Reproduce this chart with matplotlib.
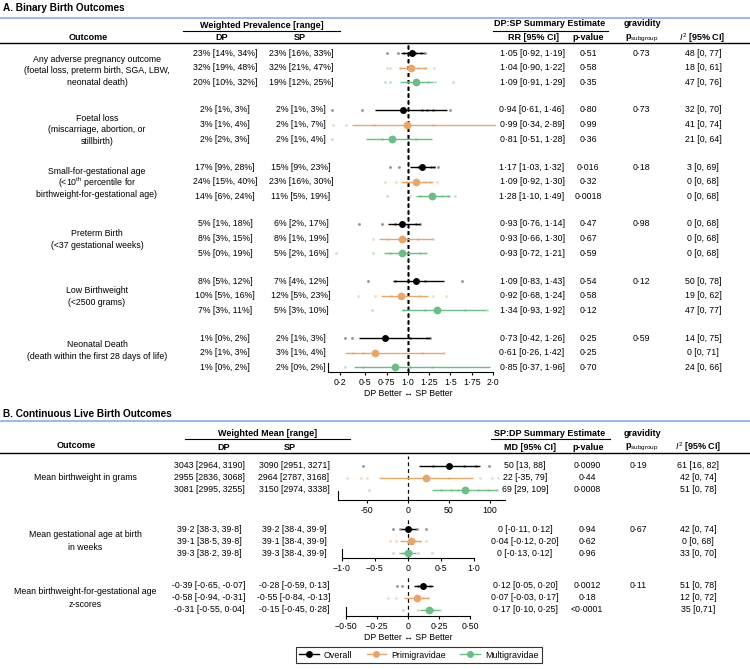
import matplotlib
matplotlib.use('Agg')
import matplotlib.pyplot as plt
from matplotlib.lines import Line2D

plt.rcParams['font.family'] = ['Liberation Sans', 'DejaVu Sans']
plt.rcParams['mathtext.fontset'] = 'custom'
plt.rcParams['mathtext.rm'] = 'Liberation Sans'
plt.rcParams['mathtext.it'] = 'Liberation Sans:italic'
plt.rcParams['mathtext.bf'] = 'Liberation Sans:bold'

# ---------------- data ----------------
subgroups = ["Overall", "Primigravidae", "Multigravidae"]
colors = ["#000000", "#E9A66B", "#68BE84"]

A_outcomes = [
    "Any adverse pregnancy outcome\n(foetal loss, preterm birth, SGA, LBW,\nneonatal death)",
    "Foetal loss\n(miscarriage, abortion, or\nstillbirth)",
    "Small-for-gestational age\n(<10$^{\\mathrm{th}}$ percentile for\nbirthweight-for-gestational age)",
    "Preterm Birth\n(<37 gestational weeks)",
    "Low Birthweight\n(<2500 grams)",
    "Neonatal Death\n(death within the first 28 days of life)",
]
A_dp = [["23% [14%, 34%]", "32% [19%, 48%]", "20% [10%, 32%]"],
        ["2% [1%, 3%]", "3% [1%, 4%]", "2% [2%, 3%]"],
        ["17% [9%, 28%]", "24% [15%, 40%]", "14% [6%, 24%]"],
        ["5% [1%, 18%]", "8% [3%, 15%]", "5% [0%, 19%]"],
        ["8% [5%, 12%]", "10% [5%, 16%]", "7% [3%, 11%]"],
        ["1% [0%, 2%]", "2% [1%, 3%]", "1% [0%, 2%]"]]
A_sp = [["23% [16%, 33%]", "32% [21%, 47%]", "19% [12%, 25%]"],
        ["2% [1%, 3%]", "2% [1%, 7%]", "2% [1%, 4%]"],
        ["15% [9%, 23%]", "23% [16%, 30%]", "11% [5%, 19%]"],
        ["6% [2%, 17%]", "8% [1%, 19%]", "5% [2%, 16%]"],
        ["7% [4%, 12%]", "12% [5%, 23%]", "5% [3%, 10%]"],
        ["2% [1%, 3%]", "3% [1%, 4%]", "2% [0%, 2%]"]]
A_rr = [[1.05, 1.04, 1.09], [0.94, 0.99, 0.81], [1.17, 1.09, 1.28],
        [0.93, 0.93, 0.93], [1.09, 0.92, 1.34], [0.73, 0.61, 0.85]]
A_lo = [[0.92, 0.90, 0.91], [0.61, 0.34, 0.51], [1.03, 0.92, 1.10],
        [0.76, 0.66, 0.72], [0.83, 0.68, 0.93], [0.42, 0.26, 0.37]]
A_hi = [[1.19, 1.22, 1.29], [1.46, 2.89, 1.28], [1.32, 1.30, 1.49],
        [1.14, 1.30, 1.21], [1.43, 1.24, 1.92], [1.26, 1.42, 1.96]]
A_p = [["0·51", "0·58", "0·35"], ["0·80", "0·99", "0·36"], ["0·016", "0·32", "0·0018"],
       ["0·47", "0·67", "0·59"], ["0·54", "0·58", "0·12"], ["0·25", "0·25", "0·70"]]
A_psub = ["0·73", "0·73", "0·18", "0·98", "0·12", "0·59"]
A_i2 = [["48 [0, 77]", "18 [0, 61]", "47 [0, 76]"],
        ["32 [0, 70]", "41 [0, 74]", "21 [0, 64]"],
        ["3 [0, 69]", "0 [0, 68]", "0 [0, 68]"],
        ["0 [0, 68]", "0 [0, 68]", "0 [0, 68]"],
        ["50 [0, 78]", "19 [0, 62]", "47 [0, 77]"],
        ["14 [0, 75]", "0 [0, 71]", "24 [0, 66]"]]
A_studies = [
    [[0.75, 0.88, 0.95, 1.10, 1.15, 1.20], [0.75, 0.79, 0.91, 1.12, 1.20, 1.31], [0.73, 0.79, 1.00, 1.24, 1.32, 1.53]],
    [[0.11, 0.46, 1.16, 1.22, 1.29, 1.49], [0.12, 0.27, 0.60, 1.30], [0.11, 0.70, 1.10]],
    [[0.79, 0.90, 1.12, 1.27, 1.31, 1.35], [0.73, 0.86, 0.99, 1.20, 1.26, 1.34], [0.75, 1.03, 1.14, 1.40, 1.47, 1.55]],
    [[0.42, 0.69, 0.85, 1.10, 1.14], [0.59, 0.75, 1.12, 1.29], [0.15, 0.59, 0.79, 1.00, 1.14, 1.21]],
    [[0.53, 0.85, 1.00, 1.20, 1.64], [0.41, 0.61, 0.80, 1.14, 1.29, 1.45], [0.58, 0.94, 1.20, 1.67, 1.93]],
    [[0.26, 0.34, 1.02, 1.22, 1.26], [0.35, 0.47, 1.17, 1.42], [0.26, 0.47, 1.03, 1.28]],
]
A_ticks = [0.2, 0.5, 0.75, 1.0, 1.25, 1.5, 1.75, 2.0]
A_ticklabels = ["0·2", "0·5", "0·75", "1·0", "1·25", "1·5", "1·75", "2·0"]

B_outcomes = ["Mean birthweight in grams",
              "Mean gestational age at birth\nin weeks",
              "Mean birthweight-for-gestational age\nz-scores"]
B_dp = [["3043 [2964, 3190]", "2955 [2836, 3068]", "3081 [2995, 3255]"],
        ["39·2 [38·3, 39·8]", "39·1 [38·5, 39·8]", "39·3 [38·2, 39·8]"],
        ["-0·39 [-0·65, -0·07]", "-0·58 [-0·94, -0·31]", "-0·31 [-0·55, 0·04]"]]
B_sp = [["3090 [2951, 3271]", "2964 [2787, 3168]", "3150 [2974, 3338]"],
        ["39·2 [38·4, 39·9]", "39·1 [38·4, 39·9]", "39·3 [38·4, 39·9]"],
        ["-0·28 [-0·59, 0·13]", "-0·55 [-0·84, -0·13]", "-0·15 [-0·45, 0·28]"]]
B_md = [[50, 22, 69], [0.0, 0.04, 0.0], [0.12, 0.07, 0.17]]
B_lo = [[13, -35, 29], [-0.11, -0.12, -0.13], [0.05, -0.03, 0.10]]
B_hi = [[88, 79, 109], [0.12, 0.20, 0.12], [0.20, 0.17, 0.25]]
B_md_text = [["50 [13, 88]", "22 [-35, 79]", "69 [29, 109]"],
             ["0 [-0·11, 0·12]", "0·04 [-0·12, 0·20]", "0 [-0·13, 0·12]"],
             ["0·12 [0·05, 0·20]", "0·07 [-0·03, 0·17]", "0·17 [0·10, 0·25]"]]
B_p = [["0·0090", "0·44", "0·0008"], ["0·94", "0·62", "0·96"], ["0·0012", "0·18", "<0·0001"]]
B_psub = ["0·19", "0·67", "0·11"]
B_i2 = [["61 [16, 82]", "42 [0, 74]", "51 [0, 78]"],
        ["42 [0, 74]", "0 [0, 68]", "33 [0, 70]"],
        ["51 [0, 78]", "12 [0, 72]", "35 [0,71]"]]
B_studies = [
    [[-55, 30, 68, 83, 99], [-74, -57, -50, 0, 50, 88, 102, 110], [-47, 40, 52, 61, 85, 98, 108]],
    [[-0.23, -0.12, 0.05, 0.14, 0.27], [-0.27, -0.18, 0.10, 0.18, 0.27], [-0.23, -0.08, 0.05, 0.15, 0.36]],
    [[-0.09, -0.05, 0.08, 0.18], [-0.16, -0.10, 0.12, 0.16], [-0.04, 0.08, 0.15, 0.20, 0.26]],
]
B_ticks = [[-50, 0, 50, 100], [-1.0, -0.5, 0, 0.5, 1.0], [-0.5, -0.25, 0, 0.25, 0.5]]
B_ticklabels = [["-50", "0", "50", "100"],
                ["\u22121·0", "\u22120·5", "0", "0·5", "1·0"],
                ["\u22120·50", "\u22120·25", "0", "0·25", "0·50"]]

# ---------------- layout helpers ----------------
W, H = 750, 669
fig = plt.figure(figsize=(7.5, 6.69), dpi=100)


def fx(x):
    return x / W


def fy(y):
    return 1 - y / H


FS = 6.3
BOLD_FS = 6.5


def txt(x, y, s, size=FS, weight='normal', ha='center', **kw):
    fig.text(fx(x), fy(y), s, fontsize=size, fontweight=weight, ha=ha, va='center', **kw)


def multiline(x, yc, s, step):
    lines = s.split("\n")
    n = len(lines)
    for i, ln in enumerate(lines):
        txt(x, yc + (i - (n - 1) / 2) * step, ln)


def hline(x0, x1, y, color='black', lw=0.8):
    fig.add_artist(Line2D([fx(x0), fx(x1)], [fy(y), fy(y)], transform=fig.transFigure,
                          color=color, lw=lw))


def make_axes(px0, px1, py0, py1, xlim):
    ax = fig.add_axes([fx(px0), fy(py1), (px1 - px0) / W, (py1 - py0) / H])
    ax.set_xlim(*xlim)
    ax.set_ylim(py1, py0)
    ax.patch.set_alpha(0)
    for s in ['top', 'right']:
        ax.spines[s].set_visible(False)
    ax.spines['left'].set_bounds(py1, py1 - 9)
    ax.spines['left'].set_linewidth(0.8)
    ax.spines['bottom'].set_linewidth(0.8)
    ax.set_yticks([])
    ax.tick_params(axis='x', length=2.5, width=0.8, labelsize=FS, pad=1.5)
    return ax


def draw_forest(ax, ys, est, lo, hi, studies, ref):
    ax.axvline(ref, color='black', ls=(0, (3, 2.5)), lw=0.9, zorder=1)
    for k in range(3):
        c = colors[k]
        ax.plot(studies[k], [ys[k]] * len(studies[k]), 'o', color=c, ms=2.1,
                alpha=0.4, mew=0, zorder=2)
        ax.plot([lo[k], hi[k]], [ys[k], ys[k]], color=c, lw=1.0, zorder=3, solid_capstyle='butt')
        ax.plot([est[k]], [ys[k]], 'o', color=c, ms=5.0 if k == 0 else 5.6, mew=0, zorder=4)


# ---------------- Panel A ----------------
txt(3, 8, "A. Binary Birth Outcomes", size=7.2, weight='bold', ha='left')
hline(0, 750, 18, color='#7FA7E2', lw=1.1)
txt(88, 37, "Outcome", size=BOLD_FS, weight='bold')
txt(262, 25, "Weighted Prevalence [range]", size=BOLD_FS, weight='bold')
hline(183, 340, 31)
txt(222, 37, "DP", size=BOLD_FS, weight='bold')
txt(300, 37, "SP", size=BOLD_FS, weight='bold')
txt(550, 24, "DP:SP Summary Estimate", size=BOLD_FS, weight='bold')
hline(493, 608, 31)
txt(533, 37, "RR [95% CI]", size=BOLD_FS, weight='bold')
txt(588, 37, "p-value", size=BOLD_FS, weight='bold')
txt(642, 24, "gravidity", size=BOLD_FS, weight='bold')
txt(642, 38, "p$_{\\mathrm{subgroup}}$", size=BOLD_FS, weight='bold')
txt(702, 38, "$I^{2}$ [95% CI]", size=BOLD_FS, weight='bold')
hline(0, 750, 42.5, lw=1.0)

axA = make_axes(328, 495.5, 45, 372, (0.06, 2.03))
axA.set_xticks(A_ticks)
axA.set_xticklabels(A_ticklabels)
axA.spines['bottom'].set_bounds(0.06, 2.0)
A_label_shift = [3, 5, 1, 1, 1, -2]
for g in range(len(A_outcomes)):
    ys = [53 + g * 57 + k * 14.6 for k in range(3)]
    draw_forest(axA, ys, A_rr[g], A_lo[g], A_hi[g], A_studies[g], 1.0)
    multiline(97, ys[1] + A_label_shift[g], A_outcomes[g], 11.5)
    for k in range(3):
        txt(225, ys[k], A_dp[g][k])
        txt(301, ys[k], A_sp[g][k])
        lbl = "%s [%s, %s]" % tuple(("%.2f" % v).replace('.', '·')
                                    for v in (A_rr[g][k], A_lo[g][k], A_hi[g][k]))
        txt(532, ys[k], lbl)
        txt(588, ys[k], A_p[g][k])
        txt(703, ys[k], A_i2[g][k])
    txt(641, ys[0], A_psub[g])
txt(408, 394, "DP Better \u2194 SP Better")

# ---------------- Panel B ----------------
txt(3, 414, "B. Continuous Live Birth Outcomes", size=7.2, weight='bold', ha='left')
hline(0, 750, 421, color='#7FA7E2', lw=1.1)
txt(268, 433, "Weighted Mean [range]", size=BOLD_FS, weight='bold')
hline(185, 350, 439)
txt(76, 445, "Outcome", size=BOLD_FS, weight='bold')
txt(224, 447, "DP", size=BOLD_FS, weight='bold')
txt(290, 447, "SP", size=BOLD_FS, weight='bold')
txt(550, 433, "SP:DP Summary Estimate", size=BOLD_FS, weight='bold')
hline(491, 610, 439)
txt(530, 447, "MD [95% CI]", size=BOLD_FS, weight='bold')
txt(588, 447, "p-value", size=BOLD_FS, weight='bold')
txt(642, 433, "gravidity", size=BOLD_FS, weight='bold')
txt(642, 447, "p$_{\\mathrm{subgroup}}$", size=BOLD_FS, weight='bold')
txt(698, 447, "$I^{2}$ [95% CI]", size=BOLD_FS, weight='bold')
hline(0, 750, 453, lw=1.0)

B_rows0 = [466, 529, 586]
B_axes_px = [(338, 505, 456, 500), (342, 474, 518, 558), (346, 470, 575, 616)]
B_xlims = [(-85.4, 118.3), (-1.0, 1.0), (-0.5, 0.5)]
for g in range(3):
    px0, px1, py0, py1 = B_axes_px[g]
    ax = make_axes(px0, px1, py0, py1, B_xlims[g])
    ax.set_xticks(B_ticks[g])
    ax.set_xticklabels(B_ticklabels[g])
    ys = [B_rows0[g] + k * 12 for k in range(3)]
    draw_forest(ax, ys, B_md[g], B_lo[g], B_hi[g], B_studies[g], 0.0)
    multiline(85, ys[1], B_outcomes[g], 12.5)
    for k in range(3):
        txt(209, ys[k], B_dp[g][k])
        txt(294, ys[k], B_sp[g][k])
        txt(525, ys[k], B_md_text[g][k])
        txt(587, ys[k], B_p[g][k])
        txt(698, ys[k], B_i2[g][k])
    txt(638, ys[0], B_psub[g])
txt(408, 637, "DP Better \u2194 SP Better")

handles = [Line2D([], [], color=c, lw=1.0, marker='o', ms=5.0, mew=0) for c in colors]
leg = fig.legend(handles, subgroups, loc='center', bbox_to_anchor=(fx(419), fy(655)), ncol=3,
                 fontsize=6.4, frameon=True, fancybox=False, edgecolor='black',
                 handlelength=2.2, columnspacing=1.6, handletextpad=0.6, borderpad=0.4)
leg.get_frame().set_linewidth(0.8)

fig.savefig("out.png", dpi=100)
